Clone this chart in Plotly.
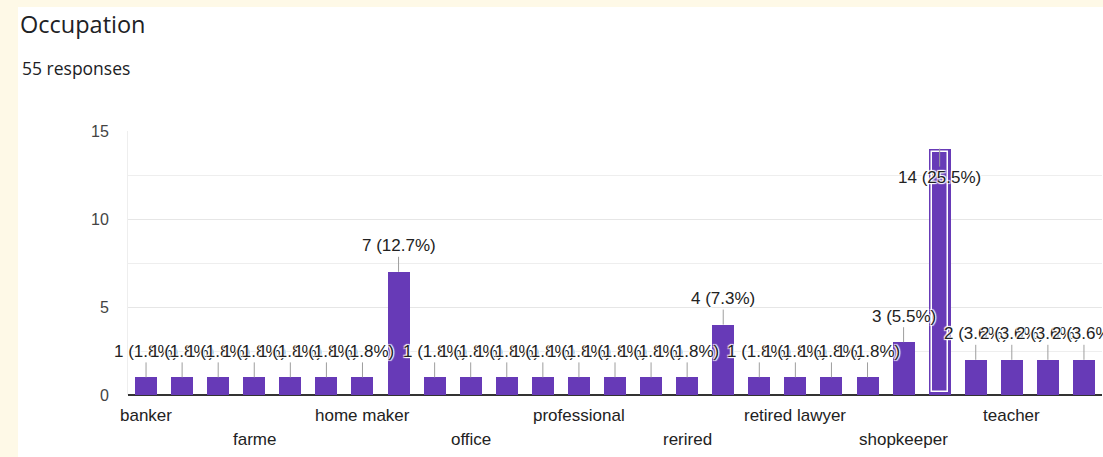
import plotly.graph_objects as go

# ---------------- data ----------------
categories = [
    "banker", "business", "doctor", "farme", "farmer", "government job",
    "home maker", "housewife", "labour", "office", "officer", "private job",
    "professional", "professor", "railway", "rerired", "retired", "retired govt",
    "retired lawyer", "retired teacher", "service", "shopkeeper", "student",
    "tailor", "teacher", "technician", "worker",
]
counts = [1, 1, 1, 1, 1, 1, 1, 7, 1, 1, 1, 1, 1, 1, 1, 1, 4, 1, 1, 1, 1, 3, 14, 2, 2, 2, 2]
y_ticks = [0, 5, 10, 15]
title_text = "Occupation"
subtitle_text = "55 responses"
highlighted = "student"

# ---------------- style ----------------
W, H = 1103, 457
ML, MR, MT, MB = 128, 1, 131, 62
PURPLE = "#673ab7"
CREAM = "#fef9e7"
FONT = "Arial, Liberation Sans, sans-serif"
HALO = "1px 1px 1px #fff, -1px -1px 1px #fff, 1px -1px 1px #fff, -1px 1px 1px #fff"

PW, PH = W - ML - MR, H - MT - MB


def px_x(p):
    return (p - ML) / PW


def px_y(p):
    return (H - MB - p) / PH


total = sum(counts)
labels = [f"{v} ({v / total * 100:.1f}%)" for v in counts]
ymax = max(y_ticks)

fig = go.Figure()
fig.add_trace(go.Bar(x=categories, y=counts, width=0.61,
                     marker=dict(color=PURPLE, line=dict(width=0)),
                     hoverinfo="skip", showlegend=False))
hi = categories.index(highlighted)
inset = 0.17
fig.add_trace(go.Bar(x=[highlighted], y=[counts[hi] - 2 * inset], base=[inset], width=0.44,
                     marker=dict(color=PURPLE, line=dict(color="white", width=1.5)),
                     hoverinfo="skip", showlegend=False))

annotations = []
for c, v, t in zip(categories, counts, labels):
    inside = v + 1.6 > ymax
    annotations.append(dict(
        x=c, y=v, xref="x", yref="y", text=t, showarrow=True,
        arrowhead=0, arrowwidth=1, arrowcolor="#9e9e9e", standoff=0,
        ax=0, ay=29 if inside else -26,
        font=dict(family=FONT, size=17, color="#222222", shadow=HALO),
    ))

# x category labels (every third, alternating rows)
for i, c in enumerate(categories):
    if i % 3 == 0:
        row = (i // 3) % 2
        annotations.append(dict(
            x=c, y=0, xref="x", yref="paper", text=c, showarrow=False,
            yanchor="middle", yshift=-20 - 24 * row,
            font=dict(family=FONT, size=17, color="#222222"),
        ))

annotations.append(dict(
    x=px_x(20), y=px_y(68), xref="paper", yref="paper", text=subtitle_text,
    showarrow=False, xanchor="left", yanchor="middle",
    font=dict(family="Open Sans, sans-serif", size=17.5, color="#202124"),
))

fig.update_layout(
    width=W, height=H,
    margin=dict(l=ML, r=MR, t=MT, b=MB, pad=0),
    paper_bgcolor=CREAM, plot_bgcolor="white",
    barmode="overlay", bargap=0,
    title=dict(text=title_text, x=20 / W, y=1 - 25 / H, xanchor="left", yanchor="middle",
               xref="container", yref="container",
               font=dict(family="Open Sans, sans-serif", size=23.5, color="#202124")),
    annotations=annotations,
    shapes=[dict(type="rect", xref="paper", yref="paper", layer="below",
                 x0=px_x(18), x1=px_x(W + 5), y0=px_y(7), y1=px_y(H + 5),
                 fillcolor="white", line=dict(width=0))],
    xaxis=dict(type="category", range=[-0.5, len(categories) - 0.5], showticklabels=False,
               showgrid=False, zeroline=False, showline=False, ticks="", fixedrange=True),
    yaxis=dict(range=[0, ymax], tickvals=y_ticks, ticks="", ticklabelstandoff=15,
               tickfont=dict(family=FONT, size=16, color="#444444"),
               showgrid=True, gridcolor="#e6e6e6", gridwidth=1,
               minor=dict(dtick=2.5, showgrid=True, gridcolor="#eeeeee", gridwidth=1),
               zeroline=True, zerolinecolor="#333333", zerolinewidth=1.5,
               showline=True, linecolor="#eeeeee", linewidth=1, fixedrange=True),
    showlegend=False,
)

fig.write_html("out.html", config={"displayModeBar": False},
               post_script="document.body.style.margin='0px';document.body.style.overflow='hidden';")
